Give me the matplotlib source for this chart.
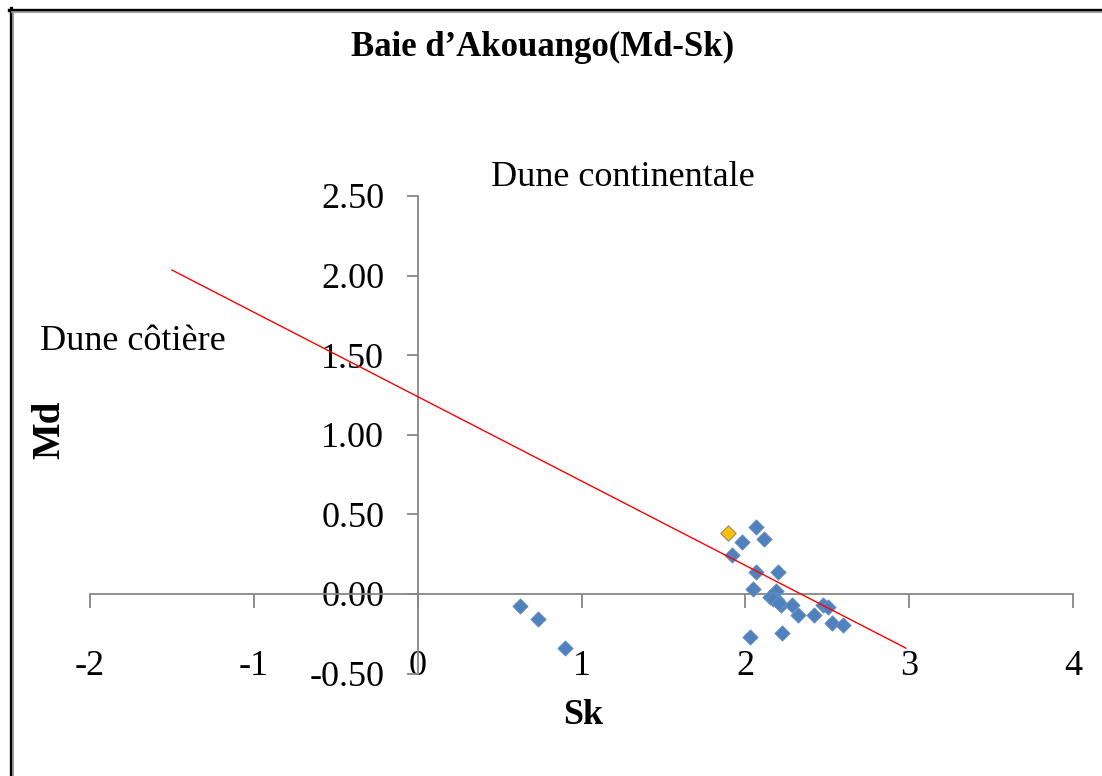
import matplotlib
matplotlib.use("Agg")
import matplotlib.pyplot as plt
from matplotlib.lines import Line2D

# ---- data ----
sk = [2.063, 1.982, 2.114, 1.921, 2.063, 2.202, 2.049, 2.151, 2.187, 2.195,
      2.216, 2.283, 2.324, 2.419, 2.476, 2.507, 2.527, 2.594, 2.029, 2.222,
      0.625, 0.736, 0.899, 2.170, 2.205]
md = [0.419, 0.329, 0.344, 0.245, 0.140, 0.140, 0.029, -0.017, 0.021, -0.038,
      -0.069, -0.069, -0.132, -0.132, -0.069, -0.080, -0.184, -0.195, -0.268, -0.247,
      -0.073, -0.159, -0.341, -0.030, -0.055]
highlight_sk = [1.893]
highlight_md = [0.381]
trend_sk = [-1.5, 2.98]
trend_md = [2.035, -0.34]

x_ticks = [-2, -1, 0, 1, 2, 3, 4]
x_tick_labels = ["-2", "-1", "0", "1", "2", "3", "4"]
y_ticks = [-0.5, 0.0, 0.5, 1.0, 1.5, 2.0, 2.5]
y_tick_labels = ["-0.50", "0.00", "0.50", "1.00", "1.50", "2.00", "2.50"]

title = "Baie d\u2019Akouango(Md-Sk)"
x_label = "Sk"
y_label = "Md"
zone_top = "Dune continentale"
zone_left = "Dune c\u00f4ti\u00e8re"

# ---- figure ----
plt.rcParams["font.family"] = ["Liberation Serif", "DejaVu Serif"]
plt.rcParams["axes.unicode_minus"] = False

W, H = 1102, 776
fig = plt.figure(figsize=(W / 100, H / 100), dpi=100)
ax = fig.add_axes([90 / W, 1 - 673.6 / H, 983 / W, (673.6 - 196) / H])

axis_color = "#868686"
ax.set_xlim(-2, 4)
ax.set_ylim(-0.5, 2.5)
for s in ("top", "right"):
    ax.spines[s].set_visible(False)
ax.spines["left"].set_position(("data", 0))
ax.spines["bottom"].set_position(("data", 0))
for s in ("left", "bottom"):
    ax.spines[s].set_color(axis_color)
    ax.spines[s].set_linewidth(1.3)

ax.set_xticks(x_ticks)
ax.set_xticklabels(x_tick_labels)
ax.set_yticks(y_ticks)
ax.set_yticklabels(y_tick_labels)
ax.tick_params(axis="x", direction="out", length=10, width=1.3, color=axis_color,
               labelsize=26, pad=30)
ax.tick_params(axis="y", direction="out", length=8, width=1.3, color=axis_color,
               labelsize=26, pad=16)

ax.scatter(sk, md, marker="D", s=62, color="#4F81BD", edgecolor="#6f93c6",
           linewidth=0.5, zorder=3)
ax.scatter(highlight_sk, highlight_md, marker="D", s=62, color="#FFC000",
           edgecolor="#8c8c8c", linewidth=0.8, zorder=3)
ax.plot(trend_sk, trend_md, color="#FF0000", lw=1.0, zorder=4)

fig.text(543 / W, 1 - 47 / H, title, ha="center", va="center",
         fontsize=25, fontweight="bold")
fig.text(583 / W, 1 - 715 / H, x_label, ha="center", va="center",
         fontsize=26, fontweight="bold")
fig.text(50 / W, 1 - 430 / H, y_label, ha="center", va="center",
         fontsize=28, fontweight="bold", rotation=90)
fig.text(623 / W, 1 - 178 / H, zone_top, ha="center", va="center", fontsize=26)
fig.text(40 / W, 1 - 341 / H, zone_left, ha="left", va="center", fontsize=26)

# frame (left and top edges)
fig.add_artist(Line2D([10.5 / W, 10.5 / W], [0, 1 - 8 / H], color="black",
                      lw=2.4, transform=fig.transFigure))
fig.add_artist(Line2D([13 / W, 13 / W], [0, 1 - 11 / H], color="#999999",
                      lw=1.3, transform=fig.transFigure))
fig.add_artist(Line2D([9 / W, 1], [1 - 9.5 / H, 1 - 9.5 / H], color="black",
                      lw=2.4, transform=fig.transFigure))
fig.add_artist(Line2D([12 / W, 1], [1 - 12 / H, 1 - 12 / H], color="#999999",
                      lw=1.3, transform=fig.transFigure))

fig.savefig("out.png", dpi=100)
